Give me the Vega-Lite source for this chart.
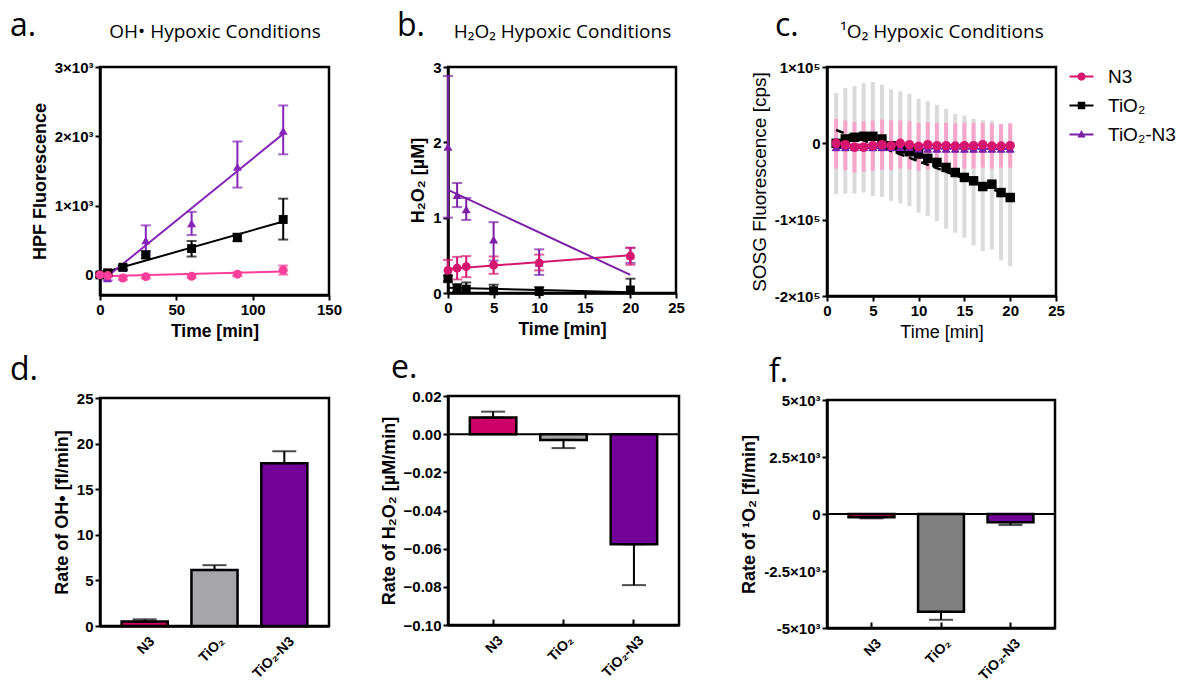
{
"$schema":"https://vega.github.io/schema/vega-lite/v6.json",
"background":"white",
"padding":{"left":8,"top":8,"right":0,"bottom":0},
"config":{
 "view":{"stroke":"black","strokeWidth":2.5},
 "axis":{"grid":false,"domainColor":"black","domainWidth":2.5,"tickColor":"black","tickWidth":2,"tickSize":5,"labelFont":"Liberation Sans","labelFontWeight":"bold","labelFontSize":15,"labelColor":"black","labelPadding":2,"labelFlush":false,"titleFont":"Liberation Sans","titleFontWeight":"bold","titleFontSize":18,"titleColor":"black","titlePadding":5},
 "axisX":{"titleFontSize":17.5},
 "title":{"font":"Open Sans","fontSize":32,"fontWeight":"normal","anchor":"start","frame":"group","color":"black","offset":0}
},
"datasets":{
 "pa":[
  {"s":"TiO₂-N3","t":0,"m":0,"lo":-25,"hi":25},
  {"s":"TiO₂-N3","t":5,"m":-50,"lo":-80,"hi":-20},
  {"s":"TiO₂-N3","t":15,"m":100,"lo":70,"hi":130},
  {"s":"TiO₂-N3","t":30,"m":500,"lo":290,"hi":715},
  {"s":"TiO₂-N3","t":60,"m":745,"lo":575,"hi":910},
  {"s":"TiO₂-N3","t":90,"m":1560,"lo":1260,"hi":1925},
  {"s":"TiO₂-N3","t":120,"m":2080,"lo":1740,"hi":2445},
  {"s":"TiO₂","t":0,"m":0,"lo":-25,"hi":25},
  {"s":"TiO₂","t":5,"m":30,"lo":5,"hi":55},
  {"s":"TiO₂","t":15,"m":110,"lo":80,"hi":140},
  {"s":"TiO₂","t":30,"m":290,"lo":240,"hi":340},
  {"s":"TiO₂","t":60,"m":380,"lo":265,"hi":490},
  {"s":"TiO₂","t":90,"m":540,"lo":485,"hi":595},
  {"s":"TiO₂","t":120,"m":800,"lo":510,"hi":1100},
  {"s":"N3","t":0,"m":0,"lo":-25,"hi":25},
  {"s":"N3","t":5,"m":-10,"lo":-35,"hi":15},
  {"s":"N3","t":15,"m":-45,"lo":-70,"hi":-20},
  {"s":"N3","t":30,"m":-25,"lo":-50,"hi":0},
  {"s":"N3","t":60,"m":-20,"lo":-45,"hi":5},
  {"s":"N3","t":90,"m":10,"lo":-15,"hi":35},
  {"s":"N3","t":120,"m":70,"lo":5,"hi":135}
 ],
 "fa":[
  {"s":"N3","t":0,"m":-20},{"s":"N3","t":120,"m":48},
  {"s":"TiO₂","t":0,"m":20},{"s":"TiO₂","t":120,"m":770},
  {"s":"TiO₂-N3","t":5,"m":-20},{"s":"TiO₂-N3","t":120,"m":2035}
 ],
 "pb":[
  {"s":"TiO₂-N3","t":0,"m":1.94,"lo":1.0,"hi":2.88},
  {"s":"TiO₂-N3","t":1,"m":1.30,"lo":1.14,"hi":1.46},
  {"s":"TiO₂-N3","t":2,"m":1.11,"lo":0.97,"hi":1.26},
  {"s":"TiO₂-N3","t":5,"m":0.71,"lo":0.43,"hi":0.94},
  {"s":"TiO₂-N3","t":10,"m":0.40,"lo":0.24,"hi":0.58},
  {"s":"TiO₂-N3","t":20,"m":0.50,"lo":0.40,"hi":0.60},
  {"s":"TiO₂","t":0,"m":0.19,"lo":0.15,"hi":0.23},
  {"s":"TiO₂","t":1,"m":0.06,"lo":0.02,"hi":0.12},
  {"s":"TiO₂","t":2,"m":0.05,"lo":0.0,"hi":0.14},
  {"s":"TiO₂","t":5,"m":0.03,"lo":0.0,"hi":0.11},
  {"s":"TiO₂","t":10,"m":0.02,"lo":0.0,"hi":0.08},
  {"s":"TiO₂","t":20,"m":0.04,"lo":0.0,"hi":0.19},
  {"s":"N3","t":0,"m":0.30,"lo":0.16,"hi":0.44},
  {"s":"N3","t":1,"m":0.33,"lo":0.18,"hi":0.48},
  {"s":"N3","t":2,"m":0.35,"lo":0.21,"hi":0.49},
  {"s":"N3","t":5,"m":0.37,"lo":0.255,"hi":0.485},
  {"s":"N3","t":10,"m":0.40,"lo":0.30,"hi":0.51},
  {"s":"N3","t":20,"m":0.49,"lo":0.375,"hi":0.60}
 ],
 "fb":[
  {"s":"N3","t":0,"m":0.32},{"s":"N3","t":20,"m":0.50},
  {"s":"TiO₂","t":0,"m":0.07},{"s":"TiO₂","t":20,"m":0.01},
  {"s":"TiO₂-N3","t":0,"m":1.37},{"s":"TiO₂-N3","t":20,"m":0.24}
 ],
 "pc":[
  {"s":"TiO₂","t":1,"m":0,"lo":-66700,"hi":65800},
  {"s":"TiO₂","t":2,"m":5700,"lo":-65800,"hi":72400},
  {"s":"TiO₂","t":3,"m":7900,"lo":-65800,"hi":75000},
  {"s":"TiO₂","t":4,"m":9200,"lo":-64500,"hi":78900},
  {"s":"TiO₂","t":5,"m":9200,"lo":-68900,"hi":80300},
  {"s":"TiO₂","t":6,"m":5700,"lo":-70200,"hi":76800},
  {"s":"TiO₂","t":7,"m":-3100,"lo":-75400,"hi":70600},
  {"s":"TiO₂","t":8,"m":-7500,"lo":-78500,"hi":68000},
  {"s":"TiO₂","t":9,"m":-11000,"lo":-82000,"hi":64900},
  {"s":"TiO₂","t":10,"m":-14000,"lo":-90800,"hi":58300},
  {"s":"TiO₂","t":11,"m":-19700,"lo":-95200,"hi":55300},
  {"s":"TiO₂","t":12,"m":-25000,"lo":-101800,"hi":50400},
  {"s":"TiO₂","t":13,"m":-31600,"lo":-111800,"hi":45200},
  {"s":"TiO₂","t":14,"m":-38200,"lo":-117100,"hi":38600},
  {"s":"TiO₂","t":15,"m":-44700,"lo":-123700,"hi":36400},
  {"s":"TiO₂","t":16,"m":-49100,"lo":-133800,"hi":32000},
  {"s":"TiO₂","t":17,"m":-56600,"lo":-141200,"hi":30700},
  {"s":"TiO₂","t":18,"m":-53500,"lo":-139000,"hi":29800},
  {"s":"TiO₂","t":19,"m":-64500,"lo":-153100,"hi":25400},
  {"s":"TiO₂","t":20,"m":-71000,"lo":-161000,"hi":26300},
  {"s":"TiO₂-N3","t":1,"m":-5000,"lo":-9500,"hi":-1500},
  {"s":"TiO₂-N3","t":2,"m":-5000,"lo":-9500,"hi":-1500},
  {"s":"TiO₂-N3","t":3,"m":-5000,"lo":-9500,"hi":-1500},
  {"s":"TiO₂-N3","t":4,"m":-5000,"lo":-9500,"hi":-1500},
  {"s":"TiO₂-N3","t":5,"m":-5000,"lo":-9500,"hi":-1500},
  {"s":"TiO₂-N3","t":6,"m":-5000,"lo":-9500,"hi":-1500},
  {"s":"TiO₂-N3","t":7,"m":-5000,"lo":-9500,"hi":-1500},
  {"s":"TiO₂-N3","t":8,"m":-5000,"lo":-9500,"hi":-1500},
  {"s":"TiO₂-N3","t":9,"m":-5000,"lo":-9500,"hi":-1500},
  {"s":"TiO₂-N3","t":10,"m":-7000,"lo":-11500,"hi":-3500},
  {"s":"TiO₂-N3","t":11,"m":-7000,"lo":-11500,"hi":-3500},
  {"s":"TiO₂-N3","t":12,"m":-7000,"lo":-11500,"hi":-3500},
  {"s":"TiO₂-N3","t":13,"m":-7000,"lo":-11500,"hi":-3500},
  {"s":"TiO₂-N3","t":14,"m":-7000,"lo":-11500,"hi":-3500},
  {"s":"TiO₂-N3","t":15,"m":-7000,"lo":-11500,"hi":-3500},
  {"s":"TiO₂-N3","t":16,"m":-7000,"lo":-11500,"hi":-3500},
  {"s":"TiO₂-N3","t":17,"m":-7000,"lo":-11500,"hi":-3500},
  {"s":"TiO₂-N3","t":18,"m":-7000,"lo":-11500,"hi":-3500},
  {"s":"TiO₂-N3","t":19,"m":-7000,"lo":-11500,"hi":-3500},
  {"s":"TiO₂-N3","t":20,"m":-7000,"lo":-11500,"hi":-3500},
  {"s":"N3","t":1,"m":0,"lo":-33000,"hi":32000},
  {"s":"N3","t":2,"m":-1800,"lo":-35000,"hi":30000},
  {"s":"N3","t":3,"m":-5000,"lo":-38000,"hi":28000},
  {"s":"N3","t":4,"m":-5000,"lo":-37000,"hi":29000},
  {"s":"N3","t":5,"m":-3000,"lo":-36000,"hi":30000},
  {"s":"N3","t":6,"m":-1800,"lo":-35000,"hi":31000},
  {"s":"N3","t":7,"m":-3000,"lo":-35000,"hi":30000},
  {"s":"N3","t":8,"m":0,"lo":-33000,"hi":30000},
  {"s":"N3","t":9,"m":-1800,"lo":-34000,"hi":29000},
  {"s":"N3","t":10,"m":-4000,"lo":-36000,"hi":27000},
  {"s":"N3","t":11,"m":-1800,"lo":-34000,"hi":28000},
  {"s":"N3","t":12,"m":-3000,"lo":-34000,"hi":27000},
  {"s":"N3","t":13,"m":-3000,"lo":-34000,"hi":27000},
  {"s":"N3","t":14,"m":-3500,"lo":-34000,"hi":26000},
  {"s":"N3","t":15,"m":-3000,"lo":-33000,"hi":27000},
  {"s":"N3","t":16,"m":-3000,"lo":-33000,"hi":27000},
  {"s":"N3","t":17,"m":-1800,"lo":-32000,"hi":27000},
  {"s":"N3","t":18,"m":-3500,"lo":-33000,"hi":26000},
  {"s":"N3","t":19,"m":-3500,"lo":-32000,"hi":25000},
  {"s":"N3","t":20,"m":-3000,"lo":-32000,"hi":26000}
 ],
 "fc":[
  {"s":"TiO₂","t":1,"m":17500},{"s":"TiO₂","t":20,"m":-69000},
  {"s":"N3","t":1,"m":-1500},{"s":"N3","t":20,"m":-2500},
  {"s":"TiO₂-N3","t":1,"m":-6000},{"s":"TiO₂-N3","t":20,"m":-7500}
 ],
 "bd":[{"s":"N3","v":0.48,"e":0.73},{"s":"TiO₂","v":6.15,"e":6.67},{"s":"TiO₂-N3","v":17.84,"e":19.16}],
 "be":[{"s":"N3","v":0.0087,"e":0.0118},{"s":"TiO₂","v":-0.003,"e":-0.0073},{"s":"TiO₂-N3","v":-0.0577,"e":-0.0791}],
 "bf":[{"s":"N3","v":-146,"e":-190},{"s":"TiO₂","v":-4290,"e":-4640},{"s":"TiO₂-N3","v":-366,"e":-480}],
 "zero":[{"v":0}]
},
"hconcat":[
 {"hconcat":[
  {"vconcat":[
   {"width":229,"height":228,
    "title":{"text":"a.","dx":-90,"dy":25},
    "encoding":{
     "x":{"field":"t","type":"quantitative","scale":{"domain":[0,150],"nice":false},"axis":{"orient":"bottom","values":[0,50,100,150],"title":"Time [min]"}},
     "y":{"field":"m","type":"quantitative","scale":{"domain":[-290,3000],"nice":false,"zero":false},"axis":{"values":[0,1000,2000,3000],"labelExpr":"datum.value==0?'0':(datum.value/1000)+'×10³'","title":"HPF Fluorescence"}}
    },
    "layer":[
     {"data":{"values":[{"m":0}]},"mark":{"type":"rule","color":"black","strokeWidth":1.5,"strokeDash":[2,4]},"encoding":{"x":{"datum":0,"axis":null},"x2":{"datum":150}}},
     {"data":{"name":"fa"},"mark":{"type":"line","strokeWidth":2},"encoding":{
       "x":{"field":"t","type":"quantitative","axis":{"orient":"top","title":"OH• Hypoxic Conditions","labels":false,"ticks":false,"domain":false,"titleFont":"Open Sans","titleFontWeight":"normal","titleFontSize":19,"titlePadding":26}},
       "color":{"field":"s","type":"nominal","scale":{"domain":["N3","TiO₂","TiO₂-N3"],"range":["#ff3d9a","#000000","#8424b8"]},"legend":null}}},
     {"data":{"name":"pa"},"mark":{"type":"errorbar","ticks":{"size":10},"thickness":2},"encoding":{
       "x":{"field":"t","type":"quantitative","axis":null},
       "y":{"field":"lo","type":"quantitative"},"y2":{"field":"hi"},
       "color":{"field":"s","type":"nominal","scale":{"domain":["N3","TiO₂","TiO₂-N3"],"range":["#ff3d9a","#000000","#8424b8"]},"legend":null}}},
     {"data":{"name":"pa"},"mark":{"type":"point","filled":true,"size":80,"opacity":1},"encoding":{
       "color":{"field":"s","type":"nominal","scale":{"domain":["N3","TiO₂","TiO₂-N3"],"range":["#ff3d9a","#000000","#8424b8"]},"legend":null},
       "shape":{"field":"s","type":"nominal","scale":{"domain":["N3","TiO₂","TiO₂-N3"],"range":["circle","square","triangle-up"]},"legend":null}}}
    ]},
   {"width":229,"height":228,
    "title":{"text":"d.","dx":-90},
    "layer":[
     {"data":{"name":"bd"},"mark":{"type":"bar","stroke":"black","strokeWidth":2.5},"encoding":{
       "x":{"field":"s","type":"nominal","sort":null,"scale":{"paddingInner":0.34,"paddingOuter":0.31},"axis":{"title":null,"labels":false,"tickSize":-6}},
       "y":{"field":"v","type":"quantitative","scale":{"domain":[0,25],"nice":false},"axis":{"values":[0,5,10,15,20,25],"title":"Rate of OH• [fl/min]"}},
       "color":{"field":"s","type":"nominal","scale":{"domain":["N3","TiO₂","TiO₂-N3"],"range":["#c9005f","#a5a5aa","#730099"]},"legend":null}}},
     {"data":{"name":"bd"},"mark":{"type":"errorbar","ticks":{"size":24},"thickness":2,"color":"black"},"encoding":{
       "x":{"field":"s","type":"nominal","sort":null,"scale":{"paddingInner":0.34,"paddingOuter":0.31},"axis":{"title":null,"labels":false,"tickSize":-6}},
       "y":{"field":"v","type":"quantitative","scale":{"domain":[0,25],"nice":false},"axis":{"values":[0,5,10,15,20,25],"title":"Rate of OH• [fl/min]"}},
       "y2":{"field":"e"}}},
     {"data":{"name":"bd"},"mark":{"type":"text","angle":-45,"align":"right","baseline":"middle","dx":-4,"dy":15,"font":"Liberation Sans","fontWeight":"bold","fontSize":14,"color":"black"},"encoding":{
       "x":{"field":"s","type":"nominal","sort":null,"scale":{"paddingInner":0.34,"paddingOuter":0.31},"axis":{"title":null,"labels":false,"tickSize":-6}},
       "y":{"datum":0,"type":"quantitative","scale":{"domain":[0,25],"nice":false},"axis":{"values":[0,5,10,15,20,25],"title":"Rate of OH• [fl/min]"}},
       "text":{"field":"s"}}}
    ]}
  ],"spacing":11,"resolve":{"scale":{"color":"independent","shape":"independent"}}},
  {"vconcat":[
   {"width":228,"height":226,
    "title":{"text":"b.","dx":-51,"dy":25},
    "encoding":{
     "x":{"field":"t","type":"quantitative","scale":{"domain":[0,25],"nice":false},"axis":{"orient":"bottom","values":[0,5,10,15,20,25],"title":"Time [min]"}},
     "y":{"field":"m","type":"quantitative","scale":{"domain":[0,3],"nice":false},"axis":{"values":[0,1,2,3],"title":"H₂O₂ [µM]"}}
    },
    "layer":[
     {"data":{"name":"fb"},"mark":{"type":"line","strokeWidth":2},"encoding":{
       "x":{"field":"t","type":"quantitative","axis":{"orient":"top","title":"H₂O₂ Hypoxic Conditions","labels":false,"ticks":false,"domain":false,"titleFont":"Open Sans","titleFontWeight":"normal","titleFontSize":19,"titlePadding":26}},
       "color":{"field":"s","type":"nominal","scale":{"domain":["N3","TiO₂","TiO₂-N3"],"range":["#d6156f","#000000","#7a1fa6"]},"legend":null}}},
     {"data":{"name":"pb"},"mark":{"type":"errorbar","ticks":{"size":10},"thickness":2},"encoding":{
       "x":{"field":"t","type":"quantitative","axis":null},
       "y":{"field":"lo","type":"quantitative"},"y2":{"field":"hi"},
       "color":{"field":"s","type":"nominal","scale":{"domain":["N3","TiO₂","TiO₂-N3"],"range":["#d6156f","#000000","#7a1fa6"]},"legend":null}}},
     {"data":{"name":"pb"},"mark":{"type":"point","filled":true,"size":80,"opacity":1},"encoding":{
       "color":{"field":"s","type":"nominal","scale":{"domain":["N3","TiO₂","TiO₂-N3"],"range":["#d6156f","#000000","#7a1fa6"]},"legend":null},
       "shape":{"field":"s","type":"nominal","scale":{"domain":["N3","TiO₂","TiO₂-N3"],"range":["circle","square","triangle-up"]},"legend":null}}}
    ]},
   {"width":231,"height":229,
    "title":{"text":"e.","dx":-57},
    "layer":[
     {"data":{"name":"zero"},"mark":{"type":"rule","color":"black","strokeWidth":2},"encoding":{
       "y":{"field":"v","type":"quantitative","scale":{"domain":[-0.1,0.02],"nice":false},"axis":{"values":[-0.1,-0.08,-0.06,-0.04,-0.02,0,0.02],"format":".2f","title":"Rate of H₂O₂ [µM/min]"}}}},
     {"data":{"name":"be"},"mark":{"type":"bar","stroke":"black","strokeWidth":2.5},"encoding":{
       "x":{"field":"s","type":"nominal","sort":null,"scale":{"paddingInner":0.34,"paddingOuter":0.31},"axis":{"title":null,"labels":false,"tickSize":-6}},
       "y":{"field":"v","type":"quantitative","scale":{"domain":[-0.1,0.02],"nice":false},"axis":{"values":[-0.1,-0.08,-0.06,-0.04,-0.02,0,0.02],"format":".2f","title":"Rate of H₂O₂ [µM/min]"}},
       "color":{"field":"s","type":"nominal","scale":{"domain":["N3","TiO₂","TiO₂-N3"],"range":["#cc0066","#a3a3a3","#730099"]},"legend":null}}},
     {"data":{"name":"be"},"mark":{"type":"errorbar","ticks":{"size":24},"thickness":2,"color":"black"},"encoding":{
       "x":{"field":"s","type":"nominal","sort":null,"scale":{"paddingInner":0.34,"paddingOuter":0.31},"axis":{"title":null,"labels":false,"tickSize":-6}},
       "y":{"field":"v","type":"quantitative","scale":{"domain":[-0.1,0.02],"nice":false},"axis":{"values":[-0.1,-0.08,-0.06,-0.04,-0.02,0,0.02],"format":".2f","title":"Rate of H₂O₂ [µM/min]"}},
       "y2":{"field":"e"}}},
     {"data":{"name":"be"},"mark":{"type":"text","angle":-45,"align":"right","baseline":"middle","dx":-4,"dy":15,"font":"Liberation Sans","fontWeight":"bold","fontSize":14,"color":"black"},"encoding":{
       "x":{"field":"s","type":"nominal","sort":null,"scale":{"paddingInner":0.34,"paddingOuter":0.31},"axis":{"title":null,"labels":false,"tickSize":-6}},
       "y":{"datum":-0.1,"type":"quantitative","scale":{"domain":[-0.1,0.02],"nice":false},"axis":{"values":[-0.1,-0.08,-0.06,-0.04,-0.02,0,0.02],"format":".2f","title":"Rate of H₂O₂ [µM/min]"}},
       "text":{"field":"s"}}}
    ]}
  ],"spacing":11,"resolve":{"scale":{"color":"independent","shape":"independent"}}}
 ],"spacing":35,"resolve":{"scale":{"color":"independent","shape":"independent"}}},
 {"vconcat":[
  {"width":229,"height":229,
   "title":{"text":"c.","dx":-52,"dy":25},
   "encoding":{
    "x":{"field":"t","type":"quantitative","scale":{"domain":[0,25],"nice":false},"axis":{"orient":"bottom","values":[0,5,10,15,20,25],"title":"Time [min]","titleFontWeight":"normal","titleFontSize":18}},
    "y":{"field":"m","type":"quantitative","scale":{"domain":[-200000,100000],"nice":false,"zero":false},"axis":{"values":[-200000,-100000,0,100000],"labelExpr":"datum.value==0?'0':(datum.value/100000)+'×10⁵'","title":"SOSG Fluorescence [cps]","titleFontWeight":"normal","titleFontSize":19}}
   },
   "layer":[
    {"data":{"values":[{"m":0}]},"mark":{"type":"rule","color":"#999999","strokeWidth":1.5,"strokeDash":[2,3]},"encoding":{"x":{"datum":1,"axis":null},"x2":{"datum":25}}},
    {"data":{"name":"pc"},"transform":[{"filter":"datum.s==='TiO₂'"}],"mark":{"type":"rule","color":"#dadada","strokeWidth":4},"encoding":{"x":{"field":"t","type":"quantitative","axis":null},"y":{"field":"lo","type":"quantitative"},"y2":{"field":"hi"}}},
    {"data":{"name":"pc"},"transform":[{"filter":"datum.s==='N3'"}],"mark":{"type":"rule","color":"#f7a6cb","strokeWidth":4},"encoding":{"x":{"field":"t","type":"quantitative","axis":null},"y":{"field":"lo","type":"quantitative"},"y2":{"field":"hi"}}},
    {"data":{"name":"pc"},"transform":[{"filter":"datum.s==='TiO₂-N3'"}],"mark":{"type":"errorbar","ticks":{"size":7},"thickness":1.5,"color":"#7a1fa6"},"encoding":{"x":{"field":"t","type":"quantitative","axis":null},"y":{"field":"lo","type":"quantitative"},"y2":{"field":"hi"}}},
    {"data":{"name":"fc"},"transform":[{"filter":"datum.s==='TiO₂'"}],"mark":{"type":"line","strokeWidth":2.5,"strokeDash":[8,5],"color":"black"},"encoding":{
      "x":{"field":"t","type":"quantitative","axis":{"orient":"top","title":"¹O₂ Hypoxic Conditions","labels":false,"ticks":false,"domain":false,"titleFont":"Open Sans","titleFontWeight":"normal","titleFontSize":19,"titlePadding":26}}}},
    {"data":{"name":"fc"},"transform":[{"filter":"datum.s==='N3'"}],"mark":{"type":"line","strokeWidth":2,"color":"#d6156f"},"encoding":{
      "x":{"field":"t","type":"quantitative","axis":null}}},
    {"data":{"name":"fc"},"transform":[{"filter":"datum.s==='TiO₂-N3'"}],"mark":{"type":"line","strokeWidth":2,"color":"#7a1fa6"},"encoding":{
      "x":{"field":"t","type":"quantitative","axis":null}}},
    {"data":{"name":"pc"},"transform":[{"filter":"datum.s==='TiO₂'"}],"mark":{"type":"point","filled":true,"size":90,"opacity":1,"shape":"square","color":"#000000"}},
    {"data":{"name":"pc"},"transform":[{"filter":"datum.s==='TiO₂-N3'"}],"mark":{"type":"point","filled":true,"size":80,"opacity":1,"shape":"triangle-up","color":"#7a1fa6"},"encoding":{
      "x":{"field":"t","type":"quantitative","axis":null}}},
    {"data":{"name":"pc"},"transform":[{"filter":"datum.s==='N3'"}],"mark":{"type":"point","filled":true,"size":90,"opacity":1,"shape":"circle","color":"#d6156f"},"encoding":{
      "x":{"field":"t","type":"quantitative","axis":null}}},
    {"data":{"name":"pc"},"transform":[{"filter":"false"}],"mark":{"type":"point","filled":true,"opacity":1},"encoding":{
      "x":{"field":"t","type":"quantitative","axis":null},
      "color":{"field":"s","type":"nominal","scale":{"domain":["N3","TiO₂","TiO₂-N3"],"range":["#d6156f","#000000","#7a1fa6"]},
        "legend":{"orient":"right","title":null,"offset":16,"padding":0,"labelFont":"Liberation Sans","labelFontSize":19,"labelFontWeight":"normal","labelColor":"black","symbolSize":225,"labelOffset":17,"rowPadding":9}},
      "shape":{"field":"s","type":"nominal","scale":{"domain":["N3","TiO₂","TiO₂-N3"],"range":["M-1.6,-0.14H1.6V0.14H-1.6Z M0.55,0A0.55,0.55,0,1,1,-0.55,0A0.55,0.55,0,1,1,0.55,0Z","M-1.6,-0.14H1.6V0.14H-1.6Z M-0.5,-0.5H0.5V0.5H-0.5Z","M-1.6,-0.14H1.6V0.14H-1.6Z M0,-0.6L0.55,0.4H-0.55Z"]},
        "legend":{"orient":"right","title":null,"offset":16,"padding":0,"labelFont":"Liberation Sans","labelFontSize":19,"labelFontWeight":"normal","labelColor":"black","symbolSize":225,"labelOffset":17,"rowPadding":9}}}}
   ]},
  {"width":228,"height":228,
   "title":{"text":"f.","dx":-58},
   "layer":[
    {"data":{"name":"zero"},"mark":{"type":"rule","color":"black","strokeWidth":2},"encoding":{
      "y":{"field":"v","type":"quantitative","scale":{"domain":[-5000,5000],"nice":false},"axis":{"values":[-5000,-2500,0,2500,5000],"labelExpr":"datum.value==0?'0':(datum.value/1000)+'×10³'","title":"Rate of ¹O₂ [fl/min]"}}}},
    {"data":{"name":"bf"},"mark":{"type":"bar","stroke":"black","strokeWidth":2.5},"encoding":{
      "x":{"field":"s","type":"nominal","sort":null,"scale":{"paddingInner":0.34,"paddingOuter":0.31},"axis":{"title":null,"labels":false,"tickSize":-6}},
      "y":{"field":"v","type":"quantitative","scale":{"domain":[-5000,5000],"nice":false},"axis":{"values":[-5000,-2500,0,2500,5000],"labelExpr":"datum.value==0?'0':(datum.value/1000)+'×10³'","title":"Rate of ¹O₂ [fl/min]"}},
      "color":{"field":"s","type":"nominal","scale":{"domain":["N3","TiO₂","TiO₂-N3"],"range":["#cc0066","#808080","#730099"]},"legend":null}}},
    {"data":{"name":"bf"},"mark":{"type":"errorbar","ticks":{"size":24},"thickness":2,"color":"black"},"encoding":{
      "x":{"field":"s","type":"nominal","sort":null,"scale":{"paddingInner":0.34,"paddingOuter":0.31},"axis":{"title":null,"labels":false,"tickSize":-6}},
      "y":{"field":"v","type":"quantitative","scale":{"domain":[-5000,5000],"nice":false},"axis":{"values":[-5000,-2500,0,2500,5000],"labelExpr":"datum.value==0?'0':(datum.value/1000)+'×10³'","title":"Rate of ¹O₂ [fl/min]"}},
      "y2":{"field":"e"}}},
    {"data":{"name":"bf"},"mark":{"type":"text","angle":-45,"align":"right","baseline":"middle","dx":-4,"dy":15,"font":"Liberation Sans","fontWeight":"bold","fontSize":14,"color":"black"},"encoding":{
      "x":{"field":"s","type":"nominal","sort":null,"scale":{"paddingInner":0.34,"paddingOuter":0.31},"axis":{"title":null,"labels":false,"tickSize":-6}},
      "y":{"datum":-5000,"type":"quantitative","scale":{"domain":[-5000,5000],"nice":false},"axis":{"values":[-5000,-2500,0,2500,5000],"labelExpr":"datum.value==0?'0':(datum.value/1000)+'×10³'","title":"Rate of ¹O₂ [fl/min]"}},
      "text":{"field":"s"}}}
   ]}
 ],"spacing":11,"resolve":{"scale":{"color":"independent","shape":"independent"}}}
],
"spacing":53,
"resolve":{"scale":{"color":"independent","shape":"independent"}}
}
